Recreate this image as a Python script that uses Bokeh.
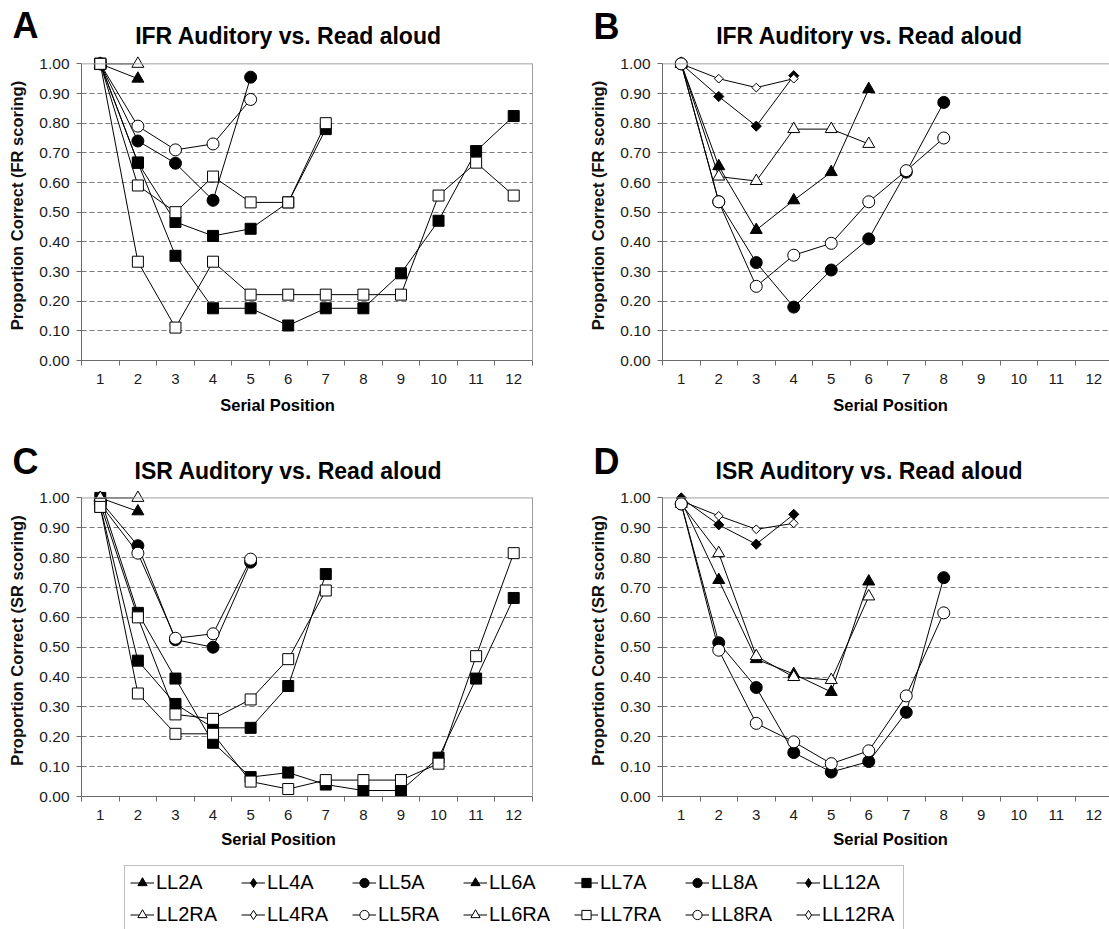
import math

from bokeh.core.properties import value
from bokeh.embed import file_html
from bokeh.layouts import column, row
from bokeh.models import (FixedTicker, Legend, LegendItem, LinearAxis,
                          NumeralTickFormatter, Range1d, Span)
from bokeh.plotting import figure
from bokeh.resources import INLINE

FONT = "Liberation Sans"

# ---------------------------------------------------------------- data
serial_positions = [1, 2, 3, 4, 5, 6, 7, 8, 9, 10, 11, 12]
serial_boundaries = [0.5, 1.5, 2.5, 3.5, 4.5, 5.5, 6.5, 7.5, 8.5, 9.5, 10.5, 11.5, 12.5]
proportion_ticks = [0.0, 0.1, 0.2, 0.3, 0.4, 0.5, 0.6, 0.7, 0.8, 0.9, 1.0]
grid_ticks = [0.1, 0.2, 0.3, 0.4, 0.5, 0.6, 0.7, 0.8, 0.9]

# A: IFR, list lengths 2/5/7/12 (FR scoring)
ifr_ll2_aud = [1.00, 0.95]
ifr_ll2_read = [1.00, 1.00]
ifr_ll5_aud = [1.00, 0.74, 0.665, 0.54, 0.955]
ifr_ll5_read = [1.00, 0.79, 0.71, 0.73, 0.88]
ifr_ll7_aud = [1.00, 0.667, 0.467, 0.42, 0.444, 0.533, 0.78]
ifr_ll7_read = [1.00, 0.59, 0.50, 0.62, 0.533, 0.533, 0.80]
ifr_ll12_aud = [1.00, 0.667, 0.353, 0.176, 0.176, 0.118, 0.176, 0.176, 0.294, 0.471, 0.706, 0.824]
ifr_ll12_read = [1.00, 0.333, 0.111, 0.333, 0.222, 0.222, 0.222, 0.222, 0.222, 0.556, 0.667, 0.556]

# B: IFR, list lengths 4/6/8 (FR scoring)
ifr_ll4_aud = [1.00, 0.89, 0.79, 0.96]
ifr_ll4_read = [1.00, 0.95, 0.92, 0.95]
ifr_ll6_aud = [1.00, 0.655, 0.44, 0.54, 0.635, 0.915]
ifr_ll6_read = [1.00, 0.62, 0.605, 0.78, 0.78, 0.73]
ifr_ll8_aud = [1.00, 0.535, 0.33, 0.18, 0.305, 0.41, 0.635, 0.87]
ifr_ll8_read = [1.00, 0.535, 0.25, 0.355, 0.395, 0.535, 0.64, 0.75]

# C: ISR, list lengths 2/5/7/12 (SR scoring)
isr_ll2_aud = [1.00, 0.955]
isr_ll2_read = [1.00, 1.00]
isr_ll5_aud = [0.99, 0.84, 0.525, 0.50, 0.785]
isr_ll5_read = [0.98, 0.815, 0.53, 0.545, 0.795]
isr_ll7_aud = [0.97, 0.455, 0.31, 0.23, 0.23, 0.37, 0.745]
isr_ll7_read = [0.98, 0.60, 0.275, 0.26, 0.325, 0.46, 0.69]
isr_ll12_aud = [1.00, 0.615, 0.395, 0.18, 0.065, 0.08, 0.04, 0.02, 0.02, 0.13, 0.395, 0.665]
isr_ll12_read = [0.97, 0.345, 0.21, 0.21, 0.05, 0.025, 0.055, 0.055, 0.055, 0.11, 0.47, 0.815]

# D: ISR, list lengths 4/6/8 (SR scoring)
isr_ll4_aud = [1.00, 0.91, 0.845, 0.945]
isr_ll4_read = [0.99, 0.94, 0.895, 0.915]
isr_ll6_aud = [0.99, 0.725, 0.46, 0.41, 0.35, 0.72]
isr_ll6_read = [0.98, 0.815, 0.47, 0.40, 0.39, 0.67]
isr_ll8_aud = [0.98, 0.515, 0.365, 0.147, 0.082, 0.117, 0.282, 0.733]
isr_ll8_read = [0.98, 0.49, 0.245, 0.183, 0.11, 0.153, 0.337, 0.615]

legend_aud_labels = ["LL2A", "LL4A", "LL5A", "LL6A", "LL7A", "LL8A", "LL12A"]
legend_read_labels = ["LL2RA", "LL4RA", "LL5RA", "LL6RA", "LL7RA", "LL8RA", "LL12RA"]
legend_shapes = ["triangle", "diamond", "circle", "triangle", "square", "circle", "diamond"]

panel_letters = ["A", "B", "C", "D"]
panel_titles = ["IFR Auditory vs. Read aloud", "IFR Auditory vs. Read aloud",
                "ISR Auditory vs. Read aloud", "ISR Auditory vs. Read aloud"]
y_labels = ["Proportion Correct (FR scoring)", "Proportion Correct (SR scoring)"]
x_label = "Serial Position"

# ---------------------------------------------------------------- styling
MARKERS = {
    "triangle": dict(marker="triangle", size=12, angle=0.0),
    "circle": dict(marker="circle", size=12, angle=0.0),
    "square": dict(marker="square", size=11, angle=0.0),
    "diamond": dict(marker="square", size=7.2, angle=math.pi / 4),
}
# legend swatches are drawn unrotated, so the diamond uses Bokeh's own diamond there
LEGEND_MARKERS = {"triangle": "triangle", "circle": "circle", "square": "square",
                  "diamond": "diamond"}
AXIS_COLOR = "#6a6a6a"
BORDER_COLOR = "#a0a0a0"
GRID_COLOR = "#7a7a7a"
PAGE_W = 1109


def draw_series(p, values, shape, filled):
    xs = serial_positions[:len(values)]
    p.line(xs, values, line_color="black", line_width=1)
    style = dict(MARKERS[shape])
    if shape == "diamond" and not filled:
        style["size"] = 6.2
    p.scatter(xs, values, fill_color="black" if filled else "white",
              line_color="black", line_width=1, **style)


def make_panel(width, height, border_left, border_right, border_bottom,
               x_end, y_label, right_border):
    p = figure(width=width, height=height, title=None,
               x_range=Range1d(0.5, x_end), y_range=Range1d(0.0, 1.045),
               output_backend="svg", toolbar_location=None,
               min_border_left=border_left, min_border_right=border_right,
               min_border_top=0, min_border_bottom=border_bottom,
               outline_line_color=None)
    p.background_fill_color = "white"
    p.border_fill_color = "white"

    xa = p.xaxis[0]
    xa.ticker = FixedTicker(ticks=serial_positions, minor_ticks=serial_boundaries)
    xa.major_tick_line_color = None
    xa.major_tick_in = 0
    xa.major_tick_out = 0
    xa.minor_tick_in = 0
    xa.minor_tick_out = 5
    xa.minor_tick_line_color = AXIS_COLOR
    xa.axis_line_color = AXIS_COLOR
    xa.major_label_standoff = 8
    xa.major_label_text_font = FONT
    xa.major_label_text_font_size = "15px"
    xa.major_label_text_color = "#1a1a1a"

    ya = p.yaxis[0]
    ya.ticker = FixedTicker(ticks=proportion_ticks)
    ya.bounds = (0.0, 1.0)
    ya.formatter = NumeralTickFormatter(format="0.00")
    ya.major_tick_in = 0
    ya.major_tick_out = 5
    ya.major_tick_line_color = AXIS_COLOR
    ya.minor_tick_line_color = None
    ya.axis_line_color = AXIS_COLOR
    ya.major_label_standoff = 7
    ya.major_label_text_font = FONT
    ya.major_label_text_font_size = "15.5px"
    ya.major_label_text_color = "#1a1a1a"
    ya.axis_label = y_label
    ya.axis_label_text_font = FONT
    ya.axis_label_text_font_size = "16.5px"
    ya.axis_label_text_font_style = "bold"
    ya.axis_label_text_color = "#111111"
    ya.axis_label_standoff = 10

    p.xgrid.visible = False
    p.ygrid.ticker = FixedTicker(ticks=grid_ticks)
    p.ygrid.grid_line_color = GRID_COLOR
    p.ygrid.grid_line_dash = "5 3"
    p.ygrid.grid_line_width = 1

    # frame edges: solid top rule at 1.00, and a right edge where the frame closes
    p.add_layout(Span(location=1.0, dimension="width", line_color=BORDER_COLOR,
                      line_width=1))
    if right_border:
        edge = LinearAxis(ticker=FixedTicker(ticks=[]), bounds=(0.0, 1.0),
                          axis_line_color=BORDER_COLOR, major_tick_line_color=None,
                          minor_tick_line_color=None)
        p.add_layout(edge, "right")
    return p


def make_band(height):
    """Full-width text strip; its data units are page pixels, y measured downward."""
    b = figure(width=PAGE_W, height=height, title=None,
               x_range=Range1d(0, PAGE_W), y_range=Range1d(height, 0),
               output_backend="svg", toolbar_location=None, min_border=0,
               outline_line_color=None)
    b.axis.visible = False
    b.grid.visible = False
    b.background_fill_color = "white"
    b.border_fill_color = "white"
    return b


def band_text(b, xs, ys, texts, size, align):
    b.text(x=xs, y=ys, text=texts, text_font=value(FONT),
           text_font_size=value(size), text_font_style=value("bold"),
           text_color="black", text_align=value(align),
           text_baseline=value("middle"))


# ---------------------------------------------------------------- panels
p_a = make_panel(555, 340, 81, 23, 30, 12.5, y_labels[0], True)
p_b = make_panel(554, 340, 107, 0, 30, 12.42, y_labels[0], False)
p_c = make_panel(555, 340, 81, 23, 28, 12.5, y_labels[1], True)
p_d = make_panel(554, 340, 107, 0, 28, 12.42, y_labels[1], False)

panel_series = [
    (p_a, [(ifr_ll2_aud, ifr_ll2_read, "triangle"), (ifr_ll5_aud, ifr_ll5_read, "circle"),
           (ifr_ll7_aud, ifr_ll7_read, "square"), (ifr_ll12_aud, ifr_ll12_read, "square")]),
    (p_b, [(ifr_ll4_aud, ifr_ll4_read, "diamond"), (ifr_ll6_aud, ifr_ll6_read, "triangle"),
           (ifr_ll8_aud, ifr_ll8_read, "circle")]),
    (p_c, [(isr_ll2_aud, isr_ll2_read, "triangle"), (isr_ll5_aud, isr_ll5_read, "circle"),
           (isr_ll7_aud, isr_ll7_read, "square"), (isr_ll12_aud, isr_ll12_read, "square")]),
    (p_d, [(isr_ll4_aud, isr_ll4_read, "diamond"), (isr_ll6_aud, isr_ll6_read, "triangle"),
           (isr_ll8_aud, isr_ll8_read, "circle")]),
]
for fig, series in panel_series:
    for aud, _, shape in series:
        draw_series(fig, aud, shape, filled=True)
    for _, read, shape in series:
        draw_series(fig, read, shape, filled=False)

# ---------------------------------------------------------------- text strips
top_band = make_band(50)
band_text(top_band, [12, 593], [25, 26], [panel_letters[0], panel_letters[1]], "36px", "left")
band_text(top_band, [288, 869], [35, 35], [panel_titles[0], panel_titles[1]], "23px", "center")

mid_band = make_band(94)
band_text(mid_band, [277, 890], [14, 14], [x_label, x_label], "16.5px", "center")
band_text(mid_band, [12, 593], [71, 71], [panel_letters[2], panel_letters[3]], "36px", "left")
band_text(mid_band, [288, 869], [80, 80], [panel_titles[2], panel_titles[3]], "23px", "center")

low_band = make_band(105)
band_text(low_band, [278, 890], [14, 14], [x_label, x_label], "16.5px", "center")


def legend_item(label, shape, filled):
    # legend swatches only: a single undefined point keeps the renderer drawable
    ln = low_band.line(x=[float("nan")], y=[float("nan")], line_color="black", line_width=1)
    sc = low_band.scatter(x=[float("nan")], y=[float("nan")], marker=LEGEND_MARKERS[shape],
                          fill_color="black" if filled else "white",
                          line_color="black", line_width=1)
    return LegendItem(label=label, renderers=[ln, sc])


items = [legend_item(lab, shp, True) for lab, shp in zip(legend_aud_labels, legend_shapes)]
items += [legend_item(lab, shp, False) for lab, shp in zip(legend_read_labels, legend_shapes)]

legend = Legend(items=items, location=(124, -3), orientation="horizontal", ncols=7,
                glyph_width=24, glyph_height=23, label_standoff=2, label_width=76,
                label_height=22, spacing=9, padding=5, margin=0,
                label_text_font=FONT, label_text_font_size="20px",
                label_text_color="black", label_text_baseline="middle",
                border_line_color="#808080", border_line_width=1,
                background_fill_color="white", background_fill_alpha=1.0)
low_band.add_layout(legend)

layout = column(top_band, row(p_a, p_b), mid_band, row(p_c, p_d), low_band)

with open("out.html", "w") as f:
    f.write(file_html(layout, INLINE))
